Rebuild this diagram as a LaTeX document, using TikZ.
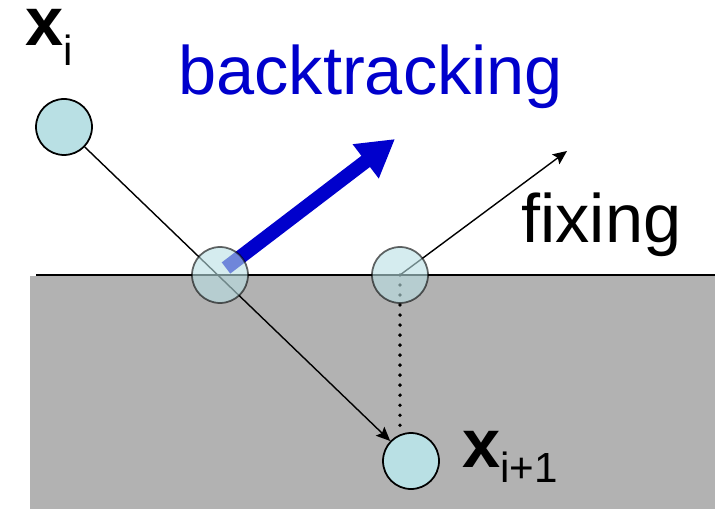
\documentclass[tikz,border=0pt]{standalone}
\usepackage{fontspec}
\setmainfont{Liberation Sans}
\usepackage{tikz}
\usetikzlibrary{arrows.meta, backgrounds}

\begin{document}
\begin{tikzpicture}[
    x=0.02cm, y=-0.02cm,
    ball/.style={
        circle,
        draw=black,
        line width=1pt,
        fill=ballcyan,
        minimum size=1.12cm,
        inner sep=0pt
    },
    ghost/.style={
        ball,
        opacity=0.6
    },
    label/.style={
        anchor=base west,
        inner sep=0pt,
        font=\fontsize{39}{46}\selectfont
    },
    arrow/.style={-{Stealth[length=8pt, width=7pt, inset=1.5pt]}, line width=0.8pt}
]

% Colors
\definecolor{ballcyan}{RGB}{185,224,228}
\definecolor{soilgray}{RGB}{178,178,178}
\definecolor{backblue}{RGB}{0,0,204}

\useasboundingbox (0,0) rectangle (715,509);

% Balls
\node[ball] (top) at (64,127) {};
\node[ghost] (m1) at (220,275) {};
\node[ghost] (m2) at (400,275) {};
\node[ball] (bot) at (411,461) {};

% Labels
\node[label] (xi) at (25,46) {\bfseries x\raisebox{-11pt}{\fontsize{24}{24}\mdseries\selectfont i}};
\node[label] (xj) at (462,467) {\bfseries x\raisebox{-9pt}{\fontsize{24}{24}\mdseries\selectfont i+1}};
\node[label, text=backblue] (bt) at (178,95) {backtracking};
\node[label] (fx) at (521,243) {fixing};

% Arrow ends
\coordinate (bstart) at (226,268);
\coordinate (btip) at (395,139);
\coordinate (ftip) at (567,151);

\begin{scope}[on background layer]
% Ground
\fill[soilgray] (30,276) rectangle (715,509);
\draw[line width=1.1pt] (36,275) -- (715,275);

% Paths
\draw[arrow] (top) -- (bot);
\draw[line width=2.2pt, line cap=round, dash pattern=on 0pt off 5.7pt] (m2.center) -- (m2.center |- bot.north);
\draw[backblue, line width=8pt, -{Triangle[length=21pt, width=23pt]}] (bstart) -- (btip);
\draw[arrow] (m2.center) -- (ftip);
\end{scope}

\end{tikzpicture}
\end{document}
